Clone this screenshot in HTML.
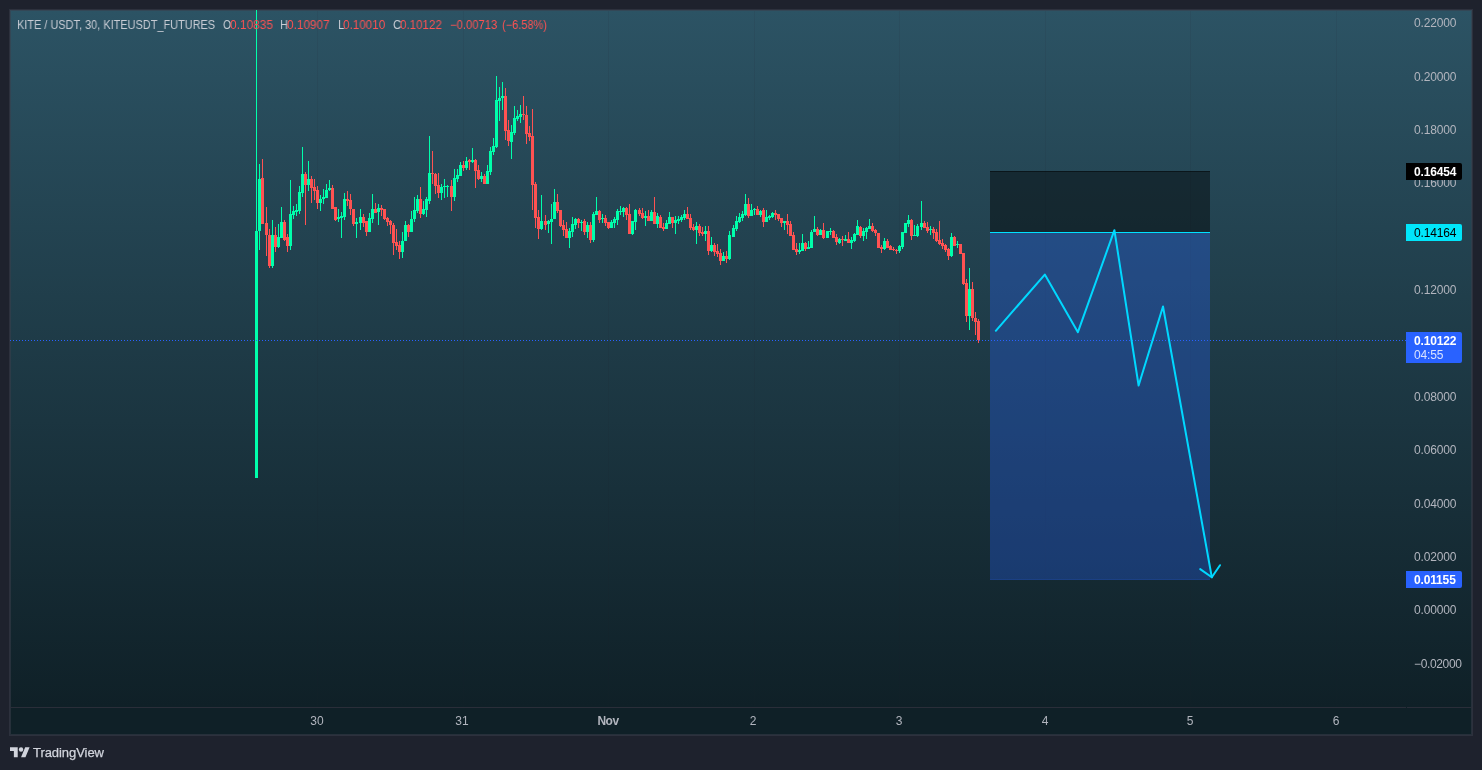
<!DOCTYPE html>
<html lang="en">
<head>
<meta charset="utf-8">
<title>KITE / USDT chart</title>
<style>
html,body{margin:0;padding:0;}
body{width:1482px;height:770px;overflow:hidden;background:#1e222d;font-family:"Liberation Sans",sans-serif;position:relative;}
#chart{position:absolute;left:10px;top:10px;width:1462px;height:725px;background:linear-gradient(180deg,#2c5364 0px,#0f2027 697px,#0f2027 100%);}
#frame{position:absolute;left:9px;top:9px;width:1464px;height:727px;box-sizing:border-box;border:2px solid rgba(58,62,74,0.55);}
#cv{position:absolute;left:0;top:0;width:1482px;height:770px;}
.t,.lab,#logo span{will-change:transform;}
.t{position:absolute;white-space:nowrap;font-size:12px;line-height:14px;color:#b2b5be;}
.lg{top:18px;color:#c8ccd4;transform-origin:0 50%;}
.lg.r{color:#ff5252;}
.pl{left:1414px;width:50px;letter-spacing:-0.15px;}
.tl{top:714px;width:60px;text-align:center;}
.lab{position:absolute;left:1406px;width:56px;height:17px;border-radius:0 2px 2px 0;font-size:12px;line-height:17px;box-sizing:border-box;padding-left:8px;padding-top:1px;white-space:nowrap;letter-spacing:-0.15px;font-weight:bold;}
#logo{position:absolute;left:10px;top:742px;height:20px;color:#d1d4dc;font-size:14px;}
</style>
</head>
<body>
<div id="chart"></div>
<div id="frame"></div>
<svg id="cv" width="1482" height="770" viewBox="0 0 1482 770" shape-rendering="crispEdges">
<!-- time axis separator -->
<rect x="10" y="707" width="1396" height="1" fill="#2a2e39"/>
<rect x="1407" y="707" width="65" height="1" fill="#2a2e39"/>
<!-- grid -->
<rect x="317" y="11" width="1" height="696" fill="#1e222d" fill-opacity="0.09"/><rect x="463" y="11" width="1" height="696" fill="#1e222d" fill-opacity="0.09"/><rect x="608" y="11" width="1" height="696" fill="#1e222d" fill-opacity="0.09"/><rect x="754" y="11" width="1" height="696" fill="#1e222d" fill-opacity="0.09"/><rect x="899" y="11" width="1" height="696" fill="#1e222d" fill-opacity="0.09"/><rect x="1045" y="11" width="1" height="696" fill="#1e222d" fill-opacity="0.09"/><rect x="1190" y="11" width="1" height="696" fill="#1e222d" fill-opacity="0.09"/><rect x="1336" y="11" width="1" height="696" fill="#1e222d" fill-opacity="0.09"/>
<!-- position box -->
<rect x="990" y="171" width="220" height="61" fill="#000" fill-opacity="0.41"/>
<rect x="990" y="171" width="220" height="1" fill="#000" fill-opacity="0.45"/>
<rect x="990" y="233" width="220" height="347" fill="#2962ff" fill-opacity="0.3"/>
<rect x="990" y="579" width="220" height="1" fill="#2962ff" fill-opacity="0.15"/>
<rect x="990" y="232" width="220" height="1" fill="#00e1ff"/>
<!-- candles -->
<rect x="256" y="10" width="1" height="468" fill="#00ffab"/>
<rect x="255" y="231" width="3" height="247" fill="#00ffab"/>
<rect x="259" y="164" width="1" height="85.7" fill="#00ffab"/>
<rect x="258" y="178.8" width="3" height="52.2" fill="#00ffab"/>
<rect x="262" y="159" width="1" height="64.6" fill="#ff5252"/>
<rect x="261" y="178" width="3" height="45.6" fill="#ff5252"/>
<rect x="266" y="206.9" width="1" height="49.1" fill="#ff5252"/>
<rect x="265" y="222.9" width="3" height="12.5" fill="#ff5252"/>
<rect x="269" y="229" width="1" height="38.7" fill="#ff5252"/>
<rect x="268" y="234.9" width="3" height="31.1" fill="#ff5252"/>
<rect x="272" y="220" width="1" height="47.7" fill="#00ffab"/>
<rect x="271" y="234.9" width="3" height="31.1" fill="#00ffab"/>
<rect x="275" y="227" width="1" height="25" fill="#ff5252"/>
<rect x="274" y="235" width="3" height="11.6" fill="#ff5252"/>
<rect x="278" y="224" width="1" height="24" fill="#00ffab"/>
<rect x="277" y="237" width="3" height="10" fill="#00ffab"/>
<rect x="281" y="206.9" width="1" height="30.7" fill="#00ffab"/>
<rect x="280" y="222" width="3" height="15.6" fill="#00ffab"/>
<rect x="284" y="220.4" width="1" height="20.6" fill="#ff5252"/>
<rect x="283" y="221.7" width="3" height="18.7" fill="#ff5252"/>
<rect x="287" y="234" width="1" height="18" fill="#ff5252"/>
<rect x="286" y="237.3" width="3" height="8.5" fill="#ff5252"/>
<rect x="290" y="180" width="1" height="69.7" fill="#00ffab"/>
<rect x="289" y="213.9" width="3" height="31.9" fill="#00ffab"/>
<rect x="293" y="206.4" width="1" height="12.9" fill="#00ffab"/>
<rect x="292" y="211" width="3" height="3.7" fill="#00ffab"/>
<rect x="296" y="203.8" width="1" height="12.2" fill="#00ffab"/>
<rect x="295" y="210" width="3" height="2" fill="#00ffab"/>
<rect x="299" y="186" width="1" height="28" fill="#00ffab"/>
<rect x="298" y="191.8" width="3" height="19" fill="#00ffab"/>
<rect x="302" y="147" width="1" height="50.4" fill="#00ffab"/>
<rect x="301" y="174" width="3" height="19" fill="#00ffab"/>
<rect x="305" y="172" width="1" height="53.4" fill="#ff5252"/>
<rect x="304" y="174" width="3" height="11.2" fill="#ff5252"/>
<rect x="308" y="161" width="1" height="29.7" fill="#00ffab"/>
<rect x="307" y="179" width="3" height="5.9" fill="#00ffab"/>
<rect x="311" y="176.2" width="1" height="26.5" fill="#ff5252"/>
<rect x="310" y="179" width="3" height="8.6" fill="#ff5252"/>
<rect x="314" y="179" width="1" height="21" fill="#ff5252"/>
<rect x="313" y="186.8" width="3" height="3.9" fill="#ff5252"/>
<rect x="317" y="186" width="1" height="22.6" fill="#ff5252"/>
<rect x="316" y="189.9" width="3" height="12.8" fill="#ff5252"/>
<rect x="320" y="194.9" width="1" height="15.6" fill="#00ffab"/>
<rect x="319" y="198.5" width="3" height="4.2" fill="#00ffab"/>
<rect x="323" y="189" width="1" height="14.6" fill="#00ffab"/>
<rect x="322" y="196.9" width="3" height="2.3" fill="#00ffab"/>
<rect x="326" y="184" width="1" height="14" fill="#00ffab"/>
<rect x="325" y="189.6" width="3" height="8.1" fill="#00ffab"/>
<rect x="329" y="180" width="1" height="11" fill="#00ffab"/>
<rect x="328" y="188.3" width="3" height="1.9" fill="#00ffab"/>
<rect x="332" y="185.2" width="1" height="24.2" fill="#ff5252"/>
<rect x="331" y="188" width="3" height="20.6" fill="#ff5252"/>
<rect x="335" y="207" width="1" height="14" fill="#ff5252"/>
<rect x="334" y="207.4" width="3" height="12.9" fill="#ff5252"/>
<rect x="338" y="209.4" width="1" height="12.5" fill="#00ffab"/>
<rect x="337" y="216.7" width="3" height="2" fill="#00ffab"/>
<rect x="341" y="212" width="1" height="25.9" fill="#00ffab"/>
<rect x="340" y="216.4" width="3" height="1.6" fill="#00ffab"/>
<rect x="344" y="193" width="1" height="26.5" fill="#00ffab"/>
<rect x="343" y="198.9" width="3" height="18.3" fill="#00ffab"/>
<rect x="347" y="191.1" width="1" height="14.4" fill="#ff5252"/>
<rect x="346" y="198.9" width="3" height="1.9" fill="#ff5252"/>
<rect x="350" y="194.3" width="1" height="20.5" fill="#ff5252"/>
<rect x="349" y="200" width="3" height="9.4" fill="#ff5252"/>
<rect x="353" y="208.5" width="1" height="17.2" fill="#ff5252"/>
<rect x="352" y="208.9" width="3" height="15" fill="#ff5252"/>
<rect x="356" y="218" width="1" height="19.9" fill="#00ffab"/>
<rect x="355" y="222.3" width="3" height="1.6" fill="#00ffab"/>
<rect x="360" y="208.9" width="1" height="21.2" fill="#00ffab"/>
<rect x="359" y="217.2" width="3" height="5.4" fill="#00ffab"/>
<rect x="363" y="214" width="1" height="12.5" fill="#ff5252"/>
<rect x="362" y="216.7" width="3" height="5.9" fill="#ff5252"/>
<rect x="366" y="220.5" width="1" height="15.4" fill="#ff5252"/>
<rect x="365" y="221" width="3" height="10.5" fill="#ff5252"/>
<rect x="369" y="213" width="1" height="19" fill="#00ffab"/>
<rect x="368" y="218" width="3" height="14" fill="#00ffab"/>
<rect x="372" y="193.8" width="1" height="29.1" fill="#00ffab"/>
<rect x="371" y="208.9" width="3" height="9.8" fill="#00ffab"/>
<rect x="375" y="203.1" width="1" height="9.9" fill="#ff5252"/>
<rect x="374" y="208.9" width="3" height="4.1" fill="#ff5252"/>
<rect x="378" y="203.9" width="1" height="21.1" fill="#00ffab"/>
<rect x="377" y="208.1" width="3" height="3.9" fill="#00ffab"/>
<rect x="381" y="205.2" width="1" height="10.7" fill="#ff5252"/>
<rect x="380" y="208.1" width="3" height="1.7" fill="#ff5252"/>
<rect x="384" y="208.6" width="1" height="11.2" fill="#ff5252"/>
<rect x="383" y="209.1" width="3" height="9.6" fill="#ff5252"/>
<rect x="387" y="216.7" width="1" height="9" fill="#ff5252"/>
<rect x="386" y="218" width="3" height="3.9" fill="#ff5252"/>
<rect x="390" y="219.8" width="1" height="13.7" fill="#ff5252"/>
<rect x="389" y="220.8" width="3" height="4.6" fill="#ff5252"/>
<rect x="393" y="222.9" width="1" height="32.1" fill="#ff5252"/>
<rect x="392" y="224.5" width="3" height="18.4" fill="#ff5252"/>
<rect x="396" y="228.9" width="1" height="21" fill="#ff5252"/>
<rect x="395" y="242.1" width="3" height="3.6" fill="#ff5252"/>
<rect x="399" y="241" width="1" height="18.3" fill="#ff5252"/>
<rect x="398" y="244.8" width="3" height="7.1" fill="#ff5252"/>
<rect x="402" y="232" width="1" height="26" fill="#00ffab"/>
<rect x="401" y="240.6" width="3" height="11.3" fill="#00ffab"/>
<rect x="405" y="221" width="1" height="20" fill="#00ffab"/>
<rect x="404" y="225" width="3" height="15.6" fill="#00ffab"/>
<rect x="408" y="223.9" width="1" height="13.1" fill="#ff5252"/>
<rect x="407" y="225" width="3" height="7" fill="#ff5252"/>
<rect x="411" y="210.9" width="1" height="21.1" fill="#00ffab"/>
<rect x="410" y="219.2" width="3" height="12.5" fill="#00ffab"/>
<rect x="414" y="196.9" width="1" height="25" fill="#00ffab"/>
<rect x="413" y="210.2" width="3" height="9" fill="#00ffab"/>
<rect x="417" y="194.9" width="1" height="18.1" fill="#00ffab"/>
<rect x="416" y="199.2" width="3" height="11.7" fill="#00ffab"/>
<rect x="420" y="186.8" width="1" height="31.2" fill="#ff5252"/>
<rect x="419" y="198.9" width="3" height="15.1" fill="#ff5252"/>
<rect x="423" y="200.8" width="1" height="13.7" fill="#00ffab"/>
<rect x="422" y="208.9" width="3" height="5.1" fill="#00ffab"/>
<rect x="426" y="197" width="1" height="20.3" fill="#00ffab"/>
<rect x="425" y="199.2" width="3" height="10.6" fill="#00ffab"/>
<rect x="429" y="136" width="1" height="67.5" fill="#00ffab"/>
<rect x="428" y="172.8" width="3" height="27.9" fill="#00ffab"/>
<rect x="432" y="150.8" width="1" height="32.8" fill="#ff5252"/>
<rect x="431" y="172.8" width="3" height="1.1" fill="#ff5252"/>
<rect x="435" y="172.6" width="1" height="21.3" fill="#ff5252"/>
<rect x="434" y="173.6" width="3" height="12.3" fill="#ff5252"/>
<rect x="438" y="172.8" width="1" height="25.2" fill="#ff5252"/>
<rect x="437" y="185.1" width="3" height="7.8" fill="#ff5252"/>
<rect x="441" y="183.6" width="1" height="16.4" fill="#00ffab"/>
<rect x="440" y="187.2" width="3" height="5.7" fill="#00ffab"/>
<rect x="444" y="178.9" width="1" height="18.7" fill="#00ffab"/>
<rect x="443" y="186" width="3" height="1.2" fill="#00ffab"/>
<rect x="447" y="184.8" width="1" height="12.2" fill="#00ffab"/>
<rect x="446" y="186" width="3" height="1" fill="#00ffab"/>
<rect x="451" y="180.2" width="1" height="30.8" fill="#ff5252"/>
<rect x="450" y="185.9" width="3" height="10.9" fill="#ff5252"/>
<rect x="454" y="168.9" width="1" height="32.3" fill="#00ffab"/>
<rect x="453" y="177.8" width="3" height="19" fill="#00ffab"/>
<rect x="457" y="168.9" width="1" height="12.8" fill="#00ffab"/>
<rect x="456" y="175.2" width="3" height="3.4" fill="#00ffab"/>
<rect x="460" y="161.8" width="1" height="14.5" fill="#00ffab"/>
<rect x="459" y="164.9" width="3" height="10.9" fill="#00ffab"/>
<rect x="463" y="161.1" width="1" height="9.7" fill="#ff5252"/>
<rect x="462" y="164.6" width="3" height="3.4" fill="#ff5252"/>
<rect x="466" y="156.8" width="1" height="13.2" fill="#00ffab"/>
<rect x="465" y="161.1" width="3" height="6.9" fill="#00ffab"/>
<rect x="469" y="158.6" width="1" height="11.4" fill="#ff5252"/>
<rect x="468" y="160.2" width="3" height="1.6" fill="#ff5252"/>
<rect x="472" y="147.9" width="1" height="15.1" fill="#00ffab"/>
<rect x="471" y="159.9" width="3" height="1.9" fill="#00ffab"/>
<rect x="475" y="158.8" width="1" height="29.2" fill="#ff5252"/>
<rect x="474" y="159.6" width="3" height="11.4" fill="#ff5252"/>
<rect x="478" y="165" width="1" height="15.2" fill="#ff5252"/>
<rect x="477" y="170.3" width="3" height="8.7" fill="#ff5252"/>
<rect x="481" y="172.1" width="1" height="9.8" fill="#00ffab"/>
<rect x="480" y="176.3" width="3" height="2.8" fill="#00ffab"/>
<rect x="484" y="174.1" width="1" height="9.7" fill="#ff5252"/>
<rect x="483" y="176" width="3" height="7.8" fill="#ff5252"/>
<rect x="487" y="164.8" width="1" height="19" fill="#00ffab"/>
<rect x="486" y="171.3" width="3" height="12.5" fill="#00ffab"/>
<rect x="490" y="146.7" width="1" height="28.1" fill="#00ffab"/>
<rect x="489" y="151.1" width="3" height="21" fill="#00ffab"/>
<rect x="493" y="137.8" width="1" height="17.2" fill="#00ffab"/>
<rect x="492" y="146.1" width="3" height="5.8" fill="#00ffab"/>
<rect x="496" y="75.9" width="1" height="71.6" fill="#00ffab"/>
<rect x="495" y="99.6" width="3" height="47.6" fill="#00ffab"/>
<rect x="499" y="86.8" width="1" height="34.3" fill="#00ffab"/>
<rect x="498" y="97.8" width="3" height="3.1" fill="#00ffab"/>
<rect x="502" y="81.7" width="1" height="28.1" fill="#00ffab"/>
<rect x="501" y="96.2" width="3" height="1.9" fill="#00ffab"/>
<rect x="505" y="87.9" width="1" height="52.3" fill="#ff5252"/>
<rect x="504" y="96.2" width="3" height="34.9" fill="#ff5252"/>
<rect x="508" y="119.9" width="1" height="26.2" fill="#ff5252"/>
<rect x="507" y="130" width="3" height="10.5" fill="#ff5252"/>
<rect x="511" y="124.9" width="1" height="34.3" fill="#00ffab"/>
<rect x="510" y="132.4" width="3" height="9.6" fill="#00ffab"/>
<rect x="514" y="106.2" width="1" height="28.5" fill="#00ffab"/>
<rect x="513" y="118" width="3" height="15.1" fill="#00ffab"/>
<rect x="517" y="109.8" width="1" height="11.3" fill="#00ffab"/>
<rect x="516" y="115.5" width="3" height="3.1" fill="#00ffab"/>
<rect x="520" y="105" width="1" height="18" fill="#00ffab"/>
<rect x="519" y="114.4" width="3" height="2.1" fill="#00ffab"/>
<rect x="523" y="96.2" width="1" height="23.7" fill="#ff5252"/>
<rect x="522" y="114.4" width="3" height="1" fill="#ff5252"/>
<rect x="526" y="106.2" width="1" height="37.8" fill="#ff5252"/>
<rect x="525" y="114.9" width="3" height="19" fill="#ff5252"/>
<rect x="529" y="125.8" width="1" height="15.1" fill="#ff5252"/>
<rect x="528" y="133.1" width="3" height="3.5" fill="#ff5252"/>
<rect x="532" y="109" width="1" height="100.8" fill="#ff5252"/>
<rect x="531" y="136.2" width="3" height="48.6" fill="#ff5252"/>
<rect x="535" y="182.2" width="1" height="45.7" fill="#ff5252"/>
<rect x="534" y="184" width="3" height="33.6" fill="#ff5252"/>
<rect x="538" y="210.3" width="1" height="28.5" fill="#ff5252"/>
<rect x="537" y="217" width="3" height="12" fill="#ff5252"/>
<rect x="541" y="195.2" width="1" height="34.6" fill="#00ffab"/>
<rect x="540" y="221.2" width="3" height="7.8" fill="#00ffab"/>
<rect x="545" y="215" width="1" height="14.8" fill="#ff5252"/>
<rect x="544" y="221.2" width="3" height="3.6" fill="#ff5252"/>
<rect x="548" y="220.1" width="1" height="12.5" fill="#00ffab"/>
<rect x="547" y="221.2" width="3" height="2.3" fill="#00ffab"/>
<rect x="551" y="204" width="1" height="39.8" fill="#00ffab"/>
<rect x="550" y="218.6" width="3" height="3.1" fill="#00ffab"/>
<rect x="554" y="188.9" width="1" height="30.4" fill="#00ffab"/>
<rect x="553" y="202" width="3" height="16.9" fill="#00ffab"/>
<rect x="557" y="193.9" width="1" height="18.7" fill="#ff5252"/>
<rect x="556" y="202" width="3" height="8.8" fill="#ff5252"/>
<rect x="560" y="209.8" width="1" height="16.9" fill="#ff5252"/>
<rect x="559" y="210.3" width="3" height="15.6" fill="#ff5252"/>
<rect x="563" y="220.1" width="1" height="15.9" fill="#ff5252"/>
<rect x="562" y="225.1" width="3" height="4.7" fill="#ff5252"/>
<rect x="566" y="222" width="1" height="16.4" fill="#ff5252"/>
<rect x="565" y="229" width="3" height="8.9" fill="#ff5252"/>
<rect x="569" y="227.9" width="1" height="19.8" fill="#00ffab"/>
<rect x="568" y="231.3" width="3" height="6.6" fill="#00ffab"/>
<rect x="572" y="217" width="1" height="19.8" fill="#00ffab"/>
<rect x="571" y="224" width="3" height="8.1" fill="#00ffab"/>
<rect x="575" y="218.1" width="1" height="10.4" fill="#00ffab"/>
<rect x="574" y="219.2" width="3" height="5.6" fill="#00ffab"/>
<rect x="578" y="218.1" width="1" height="9.8" fill="#ff5252"/>
<rect x="577" y="219.2" width="3" height="4" fill="#ff5252"/>
<rect x="581" y="219.6" width="1" height="11.4" fill="#00ffab"/>
<rect x="580" y="221.7" width="3" height="1.5" fill="#00ffab"/>
<rect x="584" y="219.2" width="1" height="15.6" fill="#ff5252"/>
<rect x="583" y="221.2" width="3" height="10.9" fill="#ff5252"/>
<rect x="587" y="222.1" width="1" height="15.8" fill="#00ffab"/>
<rect x="586" y="225" width="3" height="7.1" fill="#00ffab"/>
<rect x="590" y="222.1" width="1" height="20.8" fill="#ff5252"/>
<rect x="589" y="225" width="3" height="15" fill="#ff5252"/>
<rect x="593" y="212.1" width="1" height="29.7" fill="#00ffab"/>
<rect x="592" y="214.1" width="3" height="25.9" fill="#00ffab"/>
<rect x="596" y="197" width="1" height="18.2" fill="#00ffab"/>
<rect x="595" y="211.1" width="3" height="3.8" fill="#00ffab"/>
<rect x="599" y="210" width="1" height="12.9" fill="#ff5252"/>
<rect x="598" y="211.1" width="3" height="8.9" fill="#ff5252"/>
<rect x="602" y="214.1" width="1" height="8.8" fill="#00ffab"/>
<rect x="601" y="218" width="3" height="1.1" fill="#00ffab"/>
<rect x="605" y="215" width="1" height="10.7" fill="#ff5252"/>
<rect x="604" y="218" width="3" height="5" fill="#ff5252"/>
<rect x="608" y="221.6" width="1" height="7.3" fill="#ff5252"/>
<rect x="607" y="222.1" width="3" height="5.9" fill="#ff5252"/>
<rect x="611" y="220" width="1" height="8.3" fill="#00ffab"/>
<rect x="610" y="222.1" width="3" height="5.9" fill="#00ffab"/>
<rect x="614" y="217" width="1" height="10.9" fill="#00ffab"/>
<rect x="613" y="218.9" width="3" height="4.1" fill="#00ffab"/>
<rect x="617" y="208.9" width="1" height="16" fill="#00ffab"/>
<rect x="616" y="211.1" width="3" height="8.9" fill="#00ffab"/>
<rect x="620" y="206.1" width="1" height="8.9" fill="#00ffab"/>
<rect x="619" y="210.9" width="3" height="1.1" fill="#00ffab"/>
<rect x="623" y="207" width="1" height="10" fill="#00ffab"/>
<rect x="622" y="207.9" width="3" height="4.1" fill="#00ffab"/>
<rect x="626" y="207" width="1" height="13" fill="#ff5252"/>
<rect x="625" y="207.9" width="3" height="7.1" fill="#ff5252"/>
<rect x="629" y="203.9" width="1" height="30.3" fill="#ff5252"/>
<rect x="628" y="214.1" width="3" height="19.8" fill="#ff5252"/>
<rect x="632" y="220.8" width="1" height="14.2" fill="#00ffab"/>
<rect x="631" y="221.1" width="3" height="12.8" fill="#00ffab"/>
<rect x="635" y="208.9" width="1" height="21.1" fill="#00ffab"/>
<rect x="634" y="210" width="3" height="12" fill="#00ffab"/>
<rect x="639" y="208" width="1" height="7.9" fill="#ff5252"/>
<rect x="638" y="210" width="3" height="3.9" fill="#ff5252"/>
<rect x="642" y="208" width="1" height="10.9" fill="#ff5252"/>
<rect x="641" y="213" width="3" height="5" fill="#ff5252"/>
<rect x="645" y="211.1" width="1" height="14.8" fill="#00ffab"/>
<rect x="644" y="216.1" width="3" height="1.9" fill="#00ffab"/>
<rect x="648" y="210" width="1" height="11.4" fill="#ff5252"/>
<rect x="647" y="216.1" width="3" height="5" fill="#ff5252"/>
<rect x="651" y="210" width="1" height="11.4" fill="#00ffab"/>
<rect x="650" y="212" width="3" height="9.1" fill="#00ffab"/>
<rect x="654" y="197" width="1" height="27.2" fill="#ff5252"/>
<rect x="653" y="212" width="3" height="11.9" fill="#ff5252"/>
<rect x="657" y="213" width="1" height="14.9" fill="#00ffab"/>
<rect x="656" y="216.1" width="3" height="7.8" fill="#00ffab"/>
<rect x="660" y="215" width="1" height="13.2" fill="#ff5252"/>
<rect x="659" y="217" width="3" height="10.9" fill="#ff5252"/>
<rect x="663" y="223" width="1" height="7.9" fill="#ff5252"/>
<rect x="662" y="227" width="3" height="1.9" fill="#ff5252"/>
<rect x="666" y="220" width="1" height="9.2" fill="#00ffab"/>
<rect x="665" y="223" width="3" height="5.9" fill="#00ffab"/>
<rect x="669" y="212" width="1" height="12.2" fill="#00ffab"/>
<rect x="668" y="217" width="3" height="6.9" fill="#00ffab"/>
<rect x="672" y="216.7" width="1" height="11.2" fill="#ff5252"/>
<rect x="671" y="217" width="3" height="6" fill="#ff5252"/>
<rect x="675" y="216.1" width="1" height="17.8" fill="#00ffab"/>
<rect x="674" y="220" width="3" height="3" fill="#00ffab"/>
<rect x="678" y="216.1" width="1" height="7.8" fill="#00ffab"/>
<rect x="677" y="218.9" width="3" height="2" fill="#00ffab"/>
<rect x="681" y="214.8" width="1" height="7" fill="#00ffab"/>
<rect x="680" y="216.8" width="3" height="3.2" fill="#00ffab"/>
<rect x="684" y="210" width="1" height="10" fill="#00ffab"/>
<rect x="683" y="213.9" width="3" height="4" fill="#00ffab"/>
<rect x="687" y="207" width="1" height="12.1" fill="#ff5252"/>
<rect x="686" y="213.9" width="3" height="4.9" fill="#ff5252"/>
<rect x="690" y="213.9" width="1" height="16.1" fill="#ff5252"/>
<rect x="689" y="217.9" width="3" height="10" fill="#ff5252"/>
<rect x="693" y="223.9" width="1" height="7" fill="#ff5252"/>
<rect x="692" y="226.8" width="3" height="3.2" fill="#ff5252"/>
<rect x="696" y="221.9" width="1" height="22.2" fill="#00ffab"/>
<rect x="695" y="225.9" width="3" height="4.1" fill="#00ffab"/>
<rect x="699" y="223.9" width="1" height="12" fill="#ff5252"/>
<rect x="698" y="225.9" width="3" height="6.8" fill="#ff5252"/>
<rect x="702" y="226.8" width="1" height="9.1" fill="#ff5252"/>
<rect x="701" y="231.8" width="3" height="2.1" fill="#ff5252"/>
<rect x="705" y="225.9" width="1" height="15" fill="#00ffab"/>
<rect x="704" y="230.9" width="3" height="3" fill="#00ffab"/>
<rect x="708" y="225.9" width="1" height="29.1" fill="#ff5252"/>
<rect x="707" y="230.9" width="3" height="20" fill="#ff5252"/>
<rect x="711" y="236.8" width="1" height="15.2" fill="#00ffab"/>
<rect x="710" y="244.8" width="3" height="6.1" fill="#00ffab"/>
<rect x="714" y="242.7" width="1" height="13.2" fill="#ff5252"/>
<rect x="713" y="244.8" width="3" height="7" fill="#ff5252"/>
<rect x="717" y="243.9" width="1" height="13.1" fill="#ff5252"/>
<rect x="716" y="250.9" width="3" height="3" fill="#ff5252"/>
<rect x="720" y="248.9" width="1" height="16.1" fill="#ff5252"/>
<rect x="719" y="252.9" width="3" height="8" fill="#ff5252"/>
<rect x="723" y="251.8" width="1" height="9.4" fill="#00ffab"/>
<rect x="722" y="255.9" width="3" height="5" fill="#00ffab"/>
<rect x="726" y="250.9" width="1" height="12.1" fill="#ff5252"/>
<rect x="725" y="255.9" width="3" height="3" fill="#ff5252"/>
<rect x="729" y="230.9" width="1" height="29.1" fill="#00ffab"/>
<rect x="728" y="235" width="3" height="23.9" fill="#00ffab"/>
<rect x="733" y="224.8" width="1" height="12.3" fill="#00ffab"/>
<rect x="732" y="227.9" width="3" height="8.9" fill="#00ffab"/>
<rect x="736" y="215.9" width="1" height="15" fill="#00ffab"/>
<rect x="735" y="220.9" width="3" height="7.9" fill="#00ffab"/>
<rect x="739" y="212.9" width="1" height="9.8" fill="#00ffab"/>
<rect x="738" y="216.8" width="3" height="5" fill="#00ffab"/>
<rect x="742" y="210.9" width="1" height="10" fill="#00ffab"/>
<rect x="741" y="213.9" width="3" height="4" fill="#00ffab"/>
<rect x="745" y="193.9" width="1" height="22" fill="#00ffab"/>
<rect x="744" y="203.9" width="3" height="10.9" fill="#00ffab"/>
<rect x="748" y="197.9" width="1" height="20" fill="#ff5252"/>
<rect x="747" y="203.9" width="3" height="12" fill="#ff5252"/>
<rect x="751" y="203.9" width="1" height="12.3" fill="#00ffab"/>
<rect x="750" y="210" width="3" height="5.9" fill="#00ffab"/>
<rect x="754" y="207.9" width="1" height="6.9" fill="#00ffab"/>
<rect x="753" y="208.8" width="3" height="1.2" fill="#00ffab"/>
<rect x="757" y="205.9" width="1" height="9.2" fill="#ff5252"/>
<rect x="756" y="208.8" width="3" height="6" fill="#ff5252"/>
<rect x="760" y="210" width="1" height="6.8" fill="#00ffab"/>
<rect x="759" y="210.9" width="3" height="3.9" fill="#00ffab"/>
<rect x="763" y="207.9" width="1" height="18.9" fill="#ff5252"/>
<rect x="762" y="210" width="3" height="11.8" fill="#ff5252"/>
<rect x="766" y="210" width="1" height="12.1" fill="#00ffab"/>
<rect x="765" y="216.8" width="3" height="5" fill="#00ffab"/>
<rect x="769" y="215" width="1" height="5" fill="#00ffab"/>
<rect x="768" y="215.9" width="3" height="1.8" fill="#00ffab"/>
<rect x="772" y="211.8" width="1" height="6.1" fill="#00ffab"/>
<rect x="771" y="213" width="3" height="3.8" fill="#00ffab"/>
<rect x="775" y="210" width="1" height="10" fill="#ff5252"/>
<rect x="774" y="213" width="3" height="1.8" fill="#ff5252"/>
<rect x="778" y="213.6" width="1" height="7.3" fill="#ff5252"/>
<rect x="777" y="213.9" width="3" height="4.9" fill="#ff5252"/>
<rect x="781" y="217.6" width="1" height="9.4" fill="#ff5252"/>
<rect x="780" y="217.9" width="3" height="5.1" fill="#ff5252"/>
<rect x="784" y="220.6" width="1" height="9.4" fill="#00ffab"/>
<rect x="783" y="220.9" width="3" height="2.1" fill="#00ffab"/>
<rect x="787" y="213.9" width="1" height="20.2" fill="#ff5252"/>
<rect x="786" y="220.9" width="3" height="4.1" fill="#ff5252"/>
<rect x="790" y="220.9" width="1" height="15.3" fill="#ff5252"/>
<rect x="789" y="223.9" width="3" height="12" fill="#ff5252"/>
<rect x="793" y="231.8" width="1" height="18.5" fill="#ff5252"/>
<rect x="792" y="234.8" width="3" height="15.2" fill="#ff5252"/>
<rect x="796" y="242.9" width="1" height="12.1" fill="#ff5252"/>
<rect x="795" y="248.9" width="3" height="3.1" fill="#ff5252"/>
<rect x="799" y="242.9" width="1" height="11.2" fill="#00ffab"/>
<rect x="798" y="250" width="3" height="2" fill="#00ffab"/>
<rect x="802" y="233.9" width="1" height="17.3" fill="#00ffab"/>
<rect x="801" y="242.9" width="3" height="8" fill="#00ffab"/>
<rect x="805" y="241.8" width="1" height="9.1" fill="#ff5252"/>
<rect x="804" y="242.9" width="3" height="6" fill="#ff5252"/>
<rect x="808" y="240.9" width="1" height="8.3" fill="#00ffab"/>
<rect x="807" y="247" width="3" height="1.9" fill="#00ffab"/>
<rect x="811" y="229.8" width="1" height="18.5" fill="#00ffab"/>
<rect x="810" y="231.8" width="3" height="16.2" fill="#00ffab"/>
<rect x="814" y="215.9" width="1" height="16.2" fill="#00ffab"/>
<rect x="813" y="228.9" width="3" height="2.9" fill="#00ffab"/>
<rect x="817" y="226.8" width="1" height="9.1" fill="#ff5252"/>
<rect x="816" y="228.9" width="3" height="6.1" fill="#ff5252"/>
<rect x="820" y="228.9" width="1" height="6.4" fill="#00ffab"/>
<rect x="819" y="229.8" width="3" height="5.2" fill="#00ffab"/>
<rect x="823" y="223" width="1" height="15.9" fill="#ff5252"/>
<rect x="822" y="229.8" width="3" height="8.1" fill="#ff5252"/>
<rect x="827" y="230.6" width="1" height="7.6" fill="#00ffab"/>
<rect x="826" y="230.9" width="3" height="7" fill="#00ffab"/>
<rect x="830" y="227.9" width="1" height="7.1" fill="#00ffab"/>
<rect x="829" y="230.9" width="3" height="1" fill="#00ffab"/>
<rect x="833" y="229.8" width="1" height="8.4" fill="#ff5252"/>
<rect x="832" y="230.9" width="3" height="7" fill="#ff5252"/>
<rect x="836" y="233.9" width="1" height="11.1" fill="#ff5252"/>
<rect x="835" y="237" width="3" height="4.8" fill="#ff5252"/>
<rect x="839" y="237.9" width="1" height="6" fill="#00ffab"/>
<rect x="838" y="238.9" width="3" height="3.8" fill="#00ffab"/>
<rect x="842" y="235.9" width="1" height="10" fill="#ff5252"/>
<rect x="841" y="238.9" width="3" height="1.1" fill="#ff5252"/>
<rect x="845" y="235" width="1" height="6.2" fill="#00ffab"/>
<rect x="844" y="238.9" width="3" height="2" fill="#00ffab"/>
<rect x="848" y="231.8" width="1" height="11.4" fill="#ff5252"/>
<rect x="847" y="238.9" width="3" height="4" fill="#ff5252"/>
<rect x="851" y="237" width="1" height="11.9" fill="#00ffab"/>
<rect x="850" y="240" width="3" height="2.9" fill="#00ffab"/>
<rect x="854" y="233" width="1" height="8.8" fill="#00ffab"/>
<rect x="853" y="233.9" width="3" height="7" fill="#00ffab"/>
<rect x="857" y="220" width="1" height="15.3" fill="#00ffab"/>
<rect x="856" y="225.9" width="3" height="9.1" fill="#00ffab"/>
<rect x="860" y="225.9" width="1" height="12" fill="#ff5252"/>
<rect x="859" y="226.8" width="3" height="9.1" fill="#ff5252"/>
<rect x="863" y="227.9" width="1" height="13" fill="#00ffab"/>
<rect x="862" y="230.9" width="3" height="5" fill="#00ffab"/>
<rect x="866" y="226.8" width="1" height="12.1" fill="#00ffab"/>
<rect x="865" y="227.9" width="3" height="3.9" fill="#00ffab"/>
<rect x="869" y="218.9" width="1" height="10.2" fill="#00ffab"/>
<rect x="868" y="225.9" width="3" height="2.9" fill="#00ffab"/>
<rect x="872" y="223" width="1" height="8.8" fill="#ff5252"/>
<rect x="871" y="225.9" width="3" height="5" fill="#ff5252"/>
<rect x="875" y="228.8" width="1" height="7.1" fill="#ff5252"/>
<rect x="874" y="230" width="3" height="3" fill="#ff5252"/>
<rect x="878" y="232.7" width="1" height="15.5" fill="#ff5252"/>
<rect x="877" y="233" width="3" height="14.9" fill="#ff5252"/>
<rect x="881" y="244.8" width="1" height="8.1" fill="#ff5252"/>
<rect x="880" y="247" width="3" height="1.9" fill="#ff5252"/>
<rect x="884" y="237.9" width="1" height="12.1" fill="#00ffab"/>
<rect x="883" y="240.9" width="3" height="8" fill="#00ffab"/>
<rect x="887" y="238.9" width="1" height="9.3" fill="#ff5252"/>
<rect x="886" y="240.9" width="3" height="7" fill="#ff5252"/>
<rect x="890" y="244.8" width="1" height="5.3" fill="#ff5252"/>
<rect x="889" y="245.9" width="3" height="3.9" fill="#ff5252"/>
<rect x="893" y="247" width="1" height="3.9" fill="#ff5252"/>
<rect x="892" y="248.9" width="3" height="1" fill="#ff5252"/>
<rect x="896" y="248.9" width="1" height="5" fill="#ff5252"/>
<rect x="895" y="249.8" width="3" height="1.1" fill="#ff5252"/>
<rect x="899" y="244.8" width="1" height="8.1" fill="#00ffab"/>
<rect x="898" y="245.9" width="3" height="5" fill="#00ffab"/>
<rect x="902" y="231.5" width="1" height="17.4" fill="#00ffab"/>
<rect x="901" y="231.8" width="3" height="15.2" fill="#00ffab"/>
<rect x="905" y="222.7" width="1" height="10.6" fill="#00ffab"/>
<rect x="904" y="223" width="3" height="10" fill="#00ffab"/>
<rect x="908" y="215" width="1" height="12" fill="#00ffab"/>
<rect x="907" y="220" width="3" height="4" fill="#00ffab"/>
<rect x="911" y="219" width="1" height="20.9" fill="#ff5252"/>
<rect x="910" y="219.7" width="3" height="16.3" fill="#ff5252"/>
<rect x="914" y="225.1" width="1" height="11.2" fill="#00ffab"/>
<rect x="913" y="235" width="3" height="1" fill="#00ffab"/>
<rect x="917" y="224.1" width="1" height="12.9" fill="#00ffab"/>
<rect x="916" y="226" width="3" height="10" fill="#00ffab"/>
<rect x="921" y="201" width="1" height="28.8" fill="#00ffab"/>
<rect x="920" y="223" width="3" height="4" fill="#00ffab"/>
<rect x="924" y="221" width="1" height="7.3" fill="#ff5252"/>
<rect x="923" y="223" width="3" height="5" fill="#ff5252"/>
<rect x="927" y="222" width="1" height="10.9" fill="#ff5252"/>
<rect x="926" y="227" width="3" height="3.8" fill="#ff5252"/>
<rect x="930" y="226" width="1" height="9" fill="#00ffab"/>
<rect x="929" y="228.8" width="3" height="1.2" fill="#00ffab"/>
<rect x="933" y="227" width="1" height="11.8" fill="#ff5252"/>
<rect x="932" y="229" width="3" height="3.9" fill="#ff5252"/>
<rect x="936" y="228.8" width="1" height="13.2" fill="#ff5252"/>
<rect x="935" y="231.9" width="3" height="9" fill="#ff5252"/>
<rect x="939" y="221" width="1" height="23.9" fill="#ff5252"/>
<rect x="938" y="239.9" width="3" height="3.9" fill="#ff5252"/>
<rect x="942" y="238.8" width="1" height="10" fill="#ff5252"/>
<rect x="941" y="242.8" width="3" height="3.1" fill="#ff5252"/>
<rect x="945" y="243.8" width="1" height="8" fill="#ff5252"/>
<rect x="944" y="244.9" width="3" height="5" fill="#ff5252"/>
<rect x="948" y="247.8" width="1" height="12.1" fill="#ff5252"/>
<rect x="947" y="248.8" width="3" height="7" fill="#ff5252"/>
<rect x="951" y="232.9" width="1" height="23.9" fill="#00ffab"/>
<rect x="950" y="236.9" width="3" height="18.9" fill="#00ffab"/>
<rect x="954" y="235.8" width="1" height="10.4" fill="#ff5252"/>
<rect x="953" y="236.9" width="3" height="9" fill="#ff5252"/>
<rect x="957" y="240.9" width="1" height="6.9" fill="#00ffab"/>
<rect x="956" y="243.8" width="3" height="1.2" fill="#00ffab"/>
<rect x="960" y="243.5" width="1" height="10.6" fill="#ff5252"/>
<rect x="959" y="243.8" width="3" height="10" fill="#ff5252"/>
<rect x="963" y="252.6" width="1" height="32.4" fill="#ff5252"/>
<rect x="962" y="252.9" width="3" height="31.1" fill="#ff5252"/>
<rect x="966" y="279" width="1" height="42.9" fill="#ff5252"/>
<rect x="965" y="283" width="3" height="32.9" fill="#ff5252"/>
<rect x="969" y="268.1" width="1" height="61.7" fill="#00ffab"/>
<rect x="968" y="289" width="3" height="26.9" fill="#00ffab"/>
<rect x="972" y="282" width="1" height="38.8" fill="#ff5252"/>
<rect x="971" y="289" width="3" height="28.8" fill="#ff5252"/>
<rect x="975" y="311.9" width="1" height="22.8" fill="#ff5252"/>
<rect x="974" y="317.8" width="3" height="3.8" fill="#ff5252"/>
<rect x="978" y="318.9" width="1" height="23.9" fill="#ff5252"/>
<rect x="977" y="320.8" width="3" height="19.4" fill="#ff5252"/>
<!-- price line -->
<line x1="10" y1="340.5" x2="1406" y2="340.5" stroke="#2962ff" stroke-width="1" stroke-dasharray="1 2"/>
<!-- projection path -->
<g shape-rendering="geometricPrecision" fill="none" stroke="#00d8ff" stroke-width="2" stroke-linejoin="round" stroke-linecap="round">
<polyline points="995.8,330.8 1044.8,274.6 1077.9,332.2 1114.4,230.2 1138.6,385.5 1163,306.5 1211.8,577.3"/>
<polyline points="1200.2,569.1 1211.8,577.3 1220.0,565.2"/>
</g>
</svg>
<span class="t lg " style="left:17.4px;transform:scaleX(0.9116)">KITE / USDT, 30, KITEUSDT_FUTURES</span>
<span class="t lg " style="left:222.6px;transform:scaleX(0.8576)">O</span>
<span class="t lg r" style="left:230.2px;transform:scaleX(0.9894)">0.10835</span>
<span class="t lg " style="left:279.9px;transform:scaleX(0.9225)">H</span>
<span class="t lg r" style="left:287.4px;transform:scaleX(0.9825)">0.10907</span>
<span class="t lg " style="left:337.5px;transform:scaleX(0.9443)">L</span>
<span class="t lg r" style="left:343.2px;transform:scaleX(0.9733)">0.10010</span>
<span class="t lg " style="left:392.7px;transform:scaleX(0.9456)">C</span>
<span class="t lg r" style="left:400.2px;transform:scaleX(0.9640)">0.10122</span>
<span class="t lg r" style="left:449.9px;transform:scaleX(0.9390)">−0.00713</span>
<span class="t lg r" style="left:502.3px;transform:scaleX(0.9178)">(−6.58%)</span>

<div class="t pl" style="top:16px">0.22000</div>
<div class="t pl" style="top:70px">0.20000</div>
<div class="t pl" style="top:123px">0.18000</div>
<div class="t pl" style="top:176px">0.16000</div>
<div class="t pl" style="top:283px">0.12000</div>
<div class="t pl" style="top:390px">0.08000</div>
<div class="t pl" style="top:443px">0.06000</div>
<div class="t pl" style="top:497px">0.04000</div>
<div class="t pl" style="top:550px">0.02000</div>
<div class="t pl" style="top:603px">0.00000</div>
<div class="t pl" style="top:657px;letter-spacing:-0.35px">−0.02000</div>

<div class="lab" style="top:163px;background:#000;color:#fff;">0.16454</div>
<div class="lab" style="top:224px;background:#00e6fb;color:#000;font-weight:normal;">0.14164</div>
<div class="lab" style="top:332px;height:31px;background:#2962ff;color:#fff;line-height:14px;padding-top:2px;">0.10122<br><span style="color:rgba(255,255,255,.82);font-weight:normal">04:55</span></div>
<div class="lab" style="top:571px;background:#2962ff;color:#fff;">0.01155</div>

<div class="t tl" style="left:287px">30</div>
<div class="t tl" style="left:432px">31</div>
<div class="t tl" style="left:578px;font-weight:bold;letter-spacing:-0.5px">Nov</div>
<div class="t tl" style="left:723px">2</div>
<div class="t tl" style="left:869px">3</div>
<div class="t tl" style="left:1015px">4</div>
<div class="t tl" style="left:1160px">5</div>
<div class="t tl" style="left:1306px">6</div>

<div id="logo">
<svg width="20" height="16" viewBox="0 0 36.23 28.98" style="position:absolute;left:-0.2px;top:2.8px"><path fill="#d1d4dc" d="M14 22H7V11H0V4h14v18zM28 22h-8l7.5-18h8L28 22z"/><circle cx="20" cy="8" r="4" fill="#d1d4dc"/></svg>
<span style="position:absolute;left:23px;top:1.6px;font-size:13px;line-height:18px;letter-spacing:-0.06px;-webkit-text-stroke:0.25px #d1d4dc">TradingView</span>
</div>
</body>
</html>
